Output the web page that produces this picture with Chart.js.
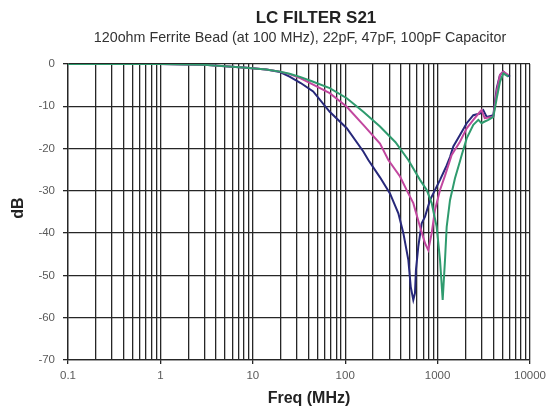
<!DOCTYPE html>
<html>
<head>
<meta charset="utf-8">
<script src="https://cdn.jsdelivr.net/npm/chart.js@4/dist/chart.umd.min.js"></script>
<style>
  html, body { margin: 0; padding: 0; background: #fff; }
  canvas { display: block; }
</style>
</head>
<body>
<canvas id="s21" width="547" height="408"></canvas>
<script>
const freq100pF = [0.1, 1, 3, 8.5, 14, 19.7, 25, 33, 45, 68, 104, 157, 178, 238, 305, 376, 426, 482, 512, 546, 569, 583, 618, 673, 731, 828, 1062, 1254, 1362, 1479, 1746, 2064, 2435, 2876, 3125, 3396, 4009, 4365, 4732, 5140, 5598, 6080];
const db100pF   = [0, 0, -0.2, -0.9, -1.3, -1.9, -3.0, -4.5, -6.5, -11.3, -15.2, -20.7, -22.7, -26.8, -30.6, -35.3, -40.0, -46.3, -52.7, -55.8, -54.2, -48.7, -43.2, -37.7, -36.1, -32.2, -27.4, -24.0, -22.0, -19.5, -16.8, -14.0, -12.1, -11.7, -10.9, -12.5, -12.1, -5.7, -2.6, -1.8, -2.6, -3.0];

const freq47pF = [0.1, 1, 3, 8.5, 14, 19.7, 25, 33, 45, 68, 104, 157, 238, 293, 392, 482, 546, 645, 731, 793, 863, 937, 1062, 1203, 1420, 1746, 2064, 2435, 2876, 2990, 3237, 4009, 4365, 4732, 5140, 5837];
const db47pF   = [0, 0, -0.2, -0.9, -1.3, -1.8, -2.4, -3.4, -4.9, -6.9, -10.1, -14.4, -18.8, -22.7, -26.6, -30.6, -32.9, -38.5, -42.4, -44.0, -40.0, -34.5, -29.8, -26.4, -21.5, -18.4, -15.2, -13.2, -11.3, -10.9, -12.8, -12.5, -6.5, -2.6, -1.8, -2.6];

const freq22pF = [0.1, 1, 3, 8.5, 14, 19.7, 25, 33, 45, 68, 104, 157, 238, 350, 482, 645, 762, 863, 977, 1062, 1135, 1203, 1254, 1362, 1542, 1746, 1824, 2064, 2435, 2760, 2990, 3237, 3540, 4009, 4365, 4732, 5140, 5837];
const db22pF   = [0, 0, -0.2, -0.9, -1.3, -1.8, -2.3, -3.1, -4.2, -5.7, -8.1, -11.3, -14.8, -18.5, -22.7, -27.4, -29.8, -32.9, -38.5, -46.3, -55.8, -46.3, -38.5, -32.2, -27.0, -23.0, -21.5, -17.6, -14.4, -13.2, -14.0, -13.6, -13.2, -12.5, -8.1, -4.2, -2.2, -3.0];

const titleText = 'LC FILTER S21';
const subtitleText = '120ohm Ferrite Bead (at 100 MHz), 22pF, 47pF, 100pF Capacitor';
const xTitle = 'Freq (MHz)';
const yTitle = 'dB';

const FONT = '"Liberation Sans", Arial, Helvetica, sans-serif';
const GRID = '#262626';

function points(xs, ys) {
  return xs.map((x, i) => ({ x, y: ys[i] }));
}

function isDecade(v) {
  const l = Math.log10(v);
  return Math.abs(l - Math.round(l)) < 1e-9;
}

// titles are placed by hand, they are not centred on the canvas
const titlesPlugin = {
  id: 'titles',
  afterDraw(chart) {
    const ctx = chart.ctx;
    ctx.save();
    ctx.fillStyle = '#222';
    ctx.textAlign = 'center';
    ctx.textBaseline = 'middle';
    ctx.font = 'bold 17px ' + FONT;
    ctx.fillText(titleText, 316, 18);
    ctx.fillStyle = '#333';
    ctx.font = '14.3px ' + FONT;
    ctx.fillText(subtitleText, 300, 38);
    ctx.fillStyle = '#222';
    ctx.font = 'bold 16px ' + FONT;
    ctx.fillText(xTitle, 309, 399);
    ctx.translate(19, 208);
    ctx.rotate(-Math.PI / 2);
    ctx.font = 'bold 16px ' + FONT;
    ctx.fillText(yTitle, 0, 0);
    ctx.restore();
  }
};

new Chart(document.getElementById('s21'), {
  type: 'line',
  data: {
    datasets: [
      { label: '100pF', data: points(freq100pF, db100pF), borderColor: '#27287a', order: 2 },
      { label: '47pF', data: points(freq47pF, db47pF), borderColor: '#c2479f', order: 1 },
      { label: '22pF', data: points(freq22pF, db22pF), borderColor: '#2f9b6e', order: 0 }
    ]
  },
  options: {
    responsive: false,
    animation: false,
    parsing: false,
    elements: {
      line: { borderWidth: 2, tension: 0 },
      point: { radius: 0 }
    },
    layout: { padding: { left: 0, top: 64, right: 17, bottom: 0 } },
    plugins: {
      legend: { display: false },
      tooltip: { enabled: false }
    },
    scales: {
      x: {
        type: 'logarithmic',
        min: 0.1,
        max: 10000,
        afterBuildTicks: (scale) => {
          const ticks = [];
          for (let e = -1; e <= 3; e++) {
            for (let m = 1; m <= 9; m++) {
              ticks.push({ value: parseFloat((m * Math.pow(10, e)).toPrecision(6)) });
            }
          }
          ticks.push({ value: 10000 });
          scale.ticks = ticks;
        },
        afterFit: (scale) => {
          scale.height = 48;
          scale.paddingLeft = 0;
          scale.paddingRight = 0;
        },
        grid: {
          color: GRID,
          lineWidth: 1.3,
          tickLength: 4,
          tickColor: (c) => (c.tick && isDecade(c.tick.value) ? GRID : 'rgba(0,0,0,0)')
        },
        border: { color: GRID, width: 1.3 },
        ticks: {
          autoSkip: false,
          maxRotation: 0,
          padding: 5,
          color: '#5a5a5a',
          font: { family: FONT, size: 11.5 },
          callback: (v) => (isDecade(v) ? String(v) : '')
        }
      },
      y: {
        min: -70,
        max: 0,
        afterFit: (scale) => { scale.width = 68; },
        grid: { color: GRID, lineWidth: 1.3, tickLength: 5 },
        border: { color: GRID, width: 1.3 },
        ticks: {
          stepSize: 10,
          padding: 8,
          color: '#5a5a5a',
          font: { family: FONT, size: 11.5 },
          callback: (v) => String(v)
        }
      }
    }
  },
  plugins: [titlesPlugin]
});
</script>
</body>
</html>
